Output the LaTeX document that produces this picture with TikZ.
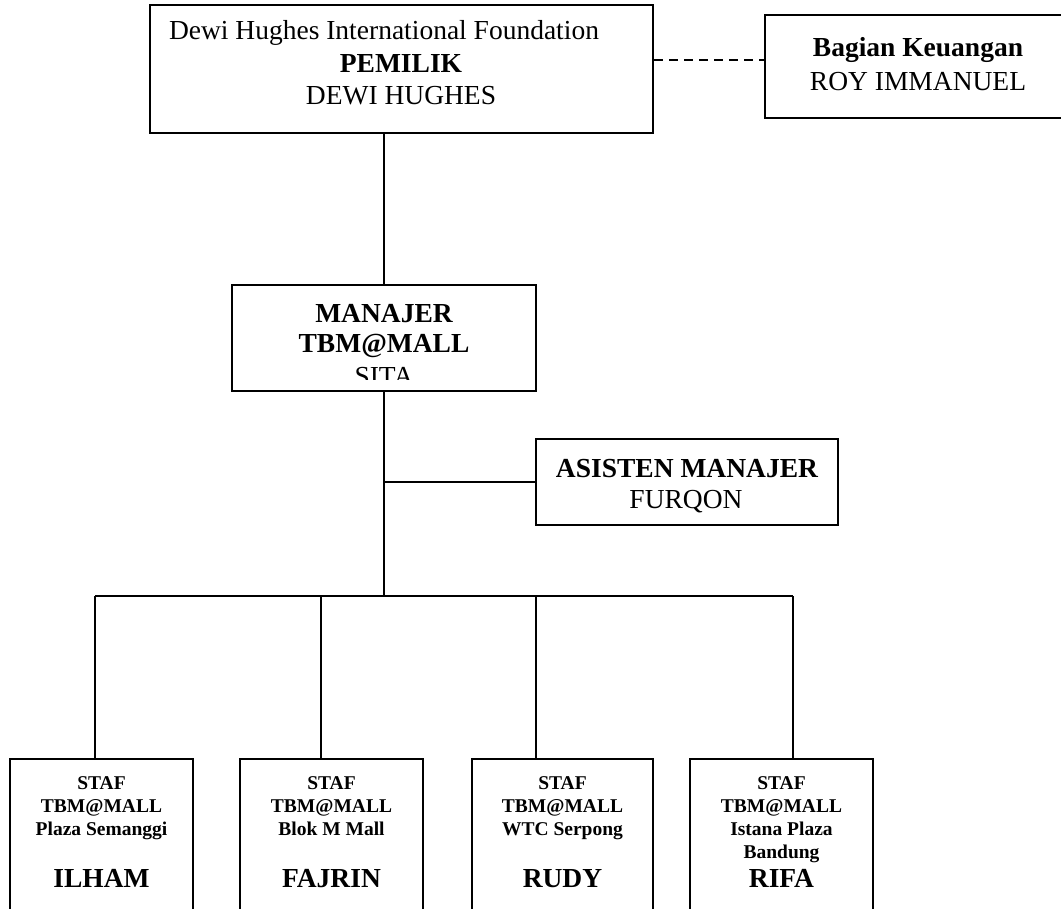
\documentclass[tikz,border=0pt]{standalone}
\usepackage{fontspec}
\setmainfont{Liberation Serif}

\tikzset{
  kotak/.style={draw, line width=2pt, inner sep=0pt},
  garis/.style={line width=1.3pt},
  besar/.style={inner sep=0pt, anchor=base, font=\fontsize{27.5}{33}\selectfont},
  tebal/.style={besar, font=\fontsize{27.5}{33}\selectfont\bfseries},
  kecil/.style={inner sep=0pt, anchor=base, font=\fontsize{19.5}{23}\selectfont\bfseries},
}

\begin{document}
\begin{tikzpicture}[x=1pt,y=-1pt]
        \clip (0,0) rectangle (1061,909);

        % Kotak
        \node[kotak, minimum width=503pt, minimum height=128pt] (pemilik) at (401.5,69) {};
        \node[kotak, minimum width=306pt, minimum height=103pt] (keuangan) at (918,66.5) {};
        \node[kotak, minimum width=304pt, minimum height=106pt] (manajer) at (384,338) {};
        \node[kotak, minimum width=302pt, minimum height=86pt] (asisten) at (687,482) {};
        \node[kotak, minimum width=183pt, minimum height=200pt] (staf1) at (101.5,859) {};
        \node[kotak, minimum width=183pt, minimum height=200pt] (staf2) at (331.5,859) {};
        \node[kotak, minimum width=181pt, minimum height=200pt] (staf3) at (562.5,859) {};
        \node[kotak, minimum width=183pt, minimum height=200pt] (staf4) at (781.5,859) {};

        % Garis
        \coordinate (putus) at (0,60);
        \coordinate (bus) at (0,596);
        \coordinate (cab1) at (95,596);
        \coordinate (cab2) at (321,596);
        \coordinate (cab3) at (536,596);
        \coordinate (cab4) at (793,596);
        \draw[garis, dash pattern=on 9pt off 6pt] (pemilik.east |- putus) -- (keuangan.west |- putus);
        \draw[garis] (manajer.north |- pemilik.south) -- (manajer.north);
        \draw[garis] (manajer.south) -- (manajer.south |- bus);
        \draw[garis] (asisten.west) -- (asisten.west -| manajer.south);
        \draw[garis] (cab1) -- (cab4);
        \draw[garis] (cab1) -- (cab1 |- staf1.north);
        \draw[garis] (cab2) -- (cab2 |- staf2.north);
        \draw[garis] (cab3) -- (cab3 |- staf3.north);
        \draw[garis] (cab4) -- (cab4 |- staf4.north);

        % Teks atas
        \node[besar] (tYayasan) at (384,40) {Dewi Hughes International Foundation};
        \node[tebal] (tPemilik) at (401,73) {PEMILIK};
        \node[besar] (tDewi) at (401,105) {DEWI HUGHES};
        \node[tebal] (tBagian) at (918,57) {Bagian Keuangan};
        \node[besar] (tRoy) at (918,91) {ROY IMMANUEL};

        % Teks manajer
        \node[tebal] (tManajer) at (384,323) {MANAJER};
        \node[tebal] (tMall) at (384,353) {TBM@MALL};
        \begin{scope}
          \clip (232,285) rectangle (536,380);
          \node[besar] (tSita) at (384,386) {SITA};
        \end{scope}
        \node[tebal] (tAsisten) at (687,477) {ASISTEN MANAJER};
        \node[besar] (tFurqon) at (686,508) {FURQON};

        % Teks staf
        \node[kecil] (s1a) at (101.5,789) {STAF};
        \node[kecil] (s1b) at (101.5,812) {TBM@MALL};
        \node[kecil] (s1c) at (101.5,835) {Plaza Semanggi};
        \node[tebal] (s1d) at (101.5,887) {ILHAM};

        \node[kecil] (s2a) at (331.5,789) {STAF};
        \node[kecil] (s2b) at (331.5,812) {TBM@MALL};
        \node[kecil] (s2c) at (331.5,835) {Blok M Mall};
        \node[tebal] (s2d) at (331.5,887) {FAJRIN};

        \node[kecil] (s3a) at (562.5,789) {STAF};
        \node[kecil] (s3b) at (562.5,812) {TBM@MALL};
        \node[kecil] (s3c) at (562.5,835) {WTC Serpong};
        \node[tebal] (s3d) at (562.5,887) {RUDY};

        \node[kecil] (s4a) at (781.5,789) {STAF};
        \node[kecil] (s4b) at (781.5,812) {TBM@MALL};
        \node[kecil] (s4c) at (781.5,835) {Istana Plaza};
        \node[kecil] (s4d) at (781.5,858) {Bandung};
        \node[tebal] (s4e) at (781.5,887) {RIFA};
\end{tikzpicture}
\end{document}
